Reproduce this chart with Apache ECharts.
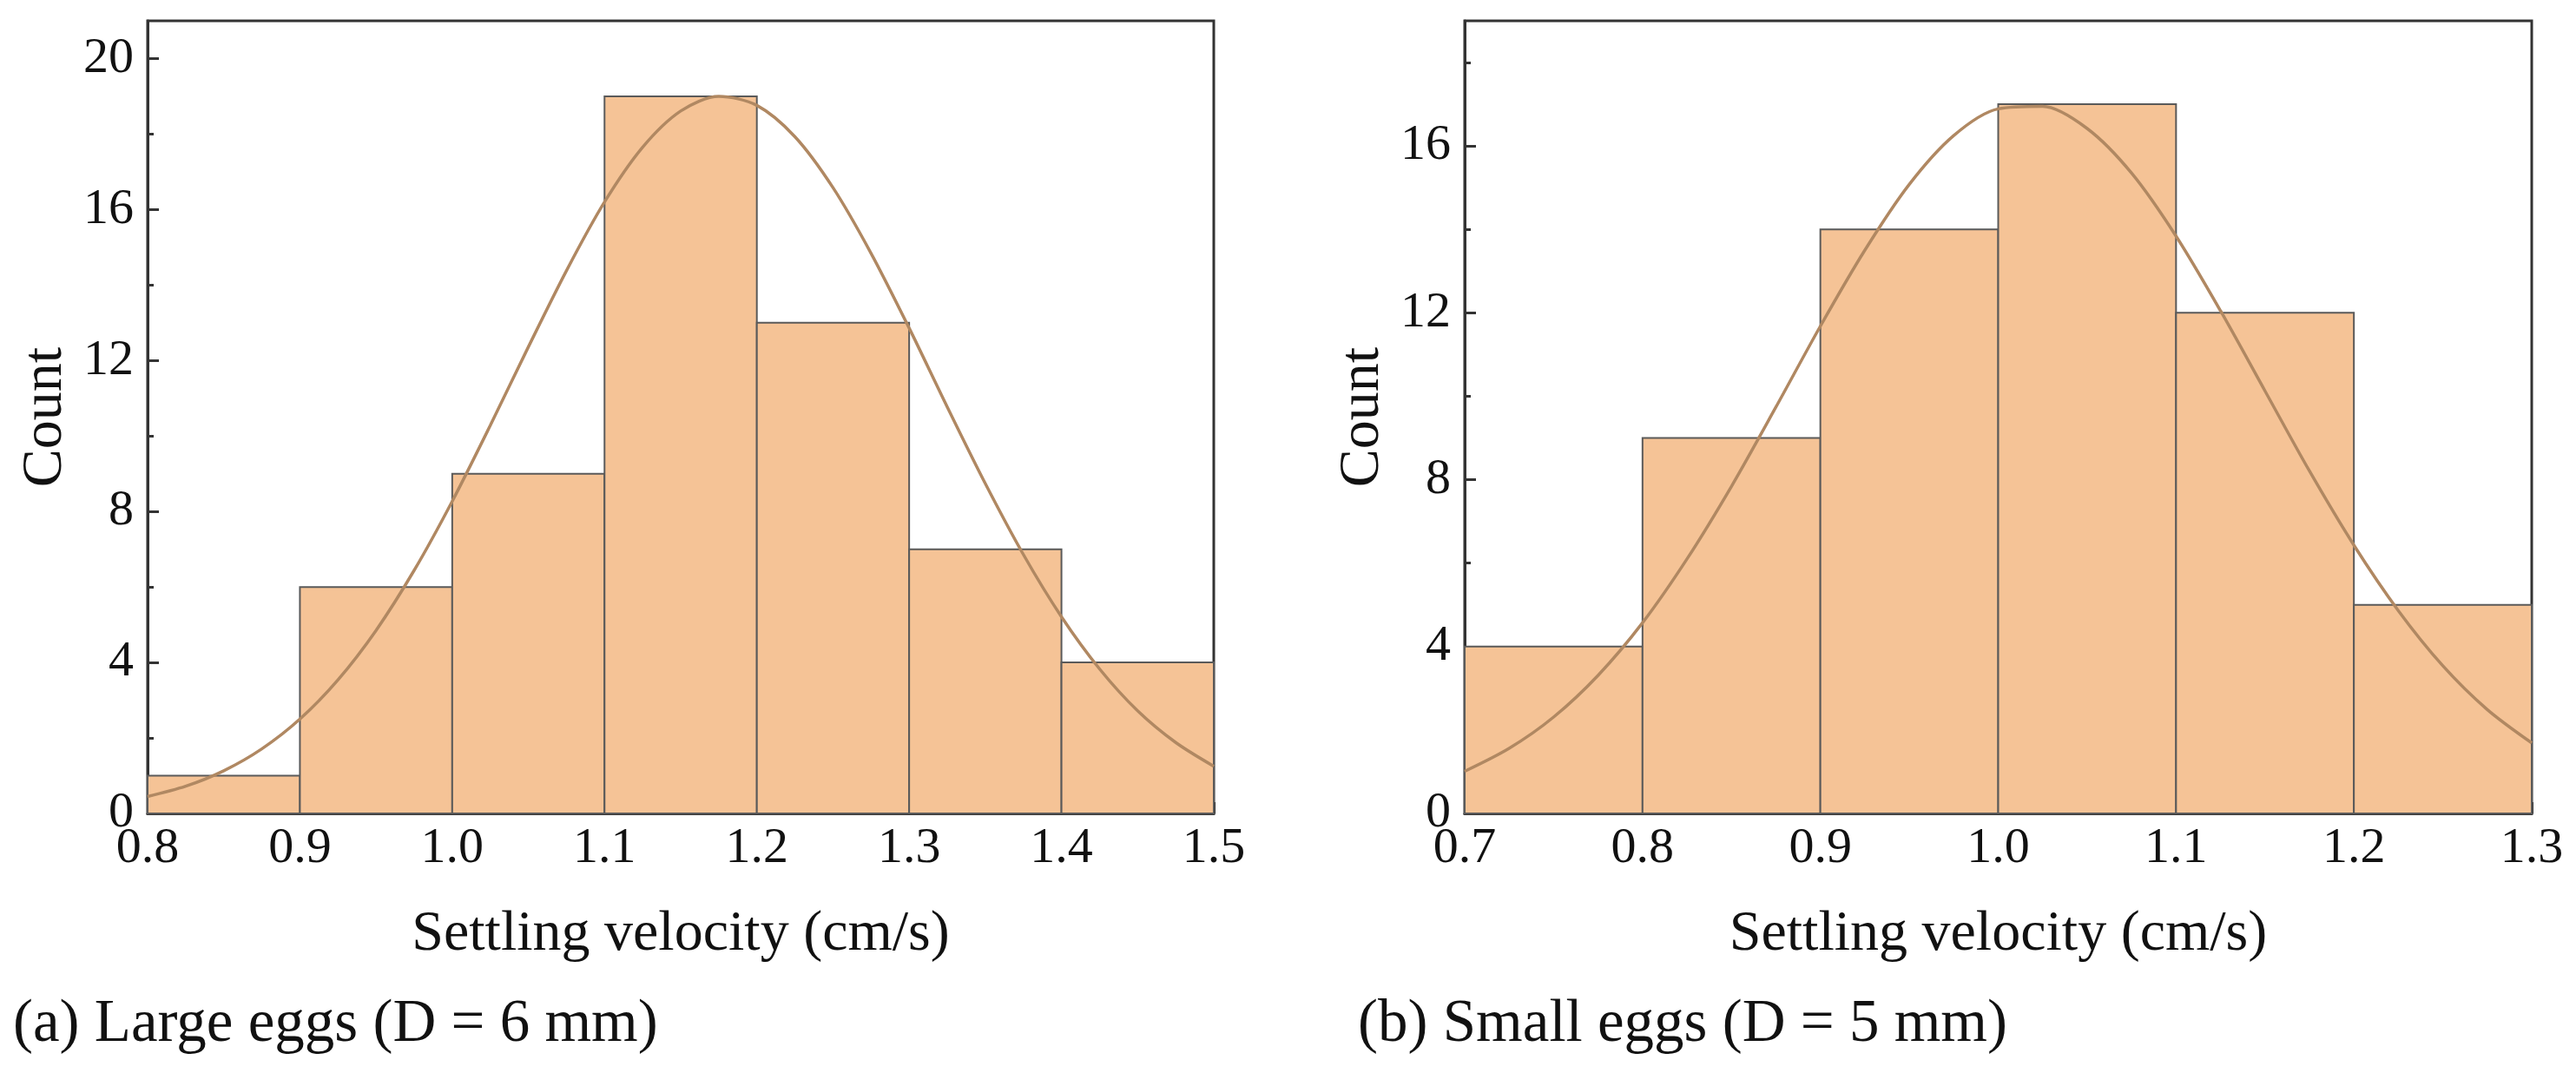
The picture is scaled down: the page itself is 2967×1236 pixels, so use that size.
<!DOCTYPE html>
<html>
<head>
<meta charset="utf-8">
<title>Settling velocity histograms</title>
<script src="https://cdn.jsdelivr.net/npm/echarts@6/dist/echarts.min.js"></script>
<style>
  html, body { margin: 0; padding: 0; background: #fff; }
  #main { width: 2967px; height: 1236px; }
</style>
</head>
<body>
<div id="main"></div>
<script>
// (a) large eggs, D = 6 mm
const largeEdges = [0.8, 0.9, 1.0, 1.1, 1.2, 1.3, 1.4, 1.5];
const largeCounts = [1, 6, 9, 19, 13, 7, 4];
const largeFitX = [0.8, 0.825, 0.85, 0.875, 0.9, 0.925, 0.95, 0.975, 1.0, 1.025, 1.05, 1.075, 1.1, 1.125, 1.15,
  1.175, 1.2, 1.225, 1.25, 1.275, 1.3, 1.325, 1.35, 1.375, 1.4, 1.425, 1.45, 1.475, 1.5];
const largeFitY = [0.45, 0.72, 1.13, 1.71, 2.5, 3.54, 4.85, 6.44, 8.27, 10.28, 12.36, 14.38, 16.2, 17.65, 18.61,
  19.0, 18.76, 17.93, 16.58, 14.84, 12.86, 10.77, 8.74, 6.86, 5.21, 3.83, 2.72, 1.88, 1.25];

// (b) small eggs, D = 5 mm
const smallEdges = [0.7, 0.8, 0.9, 1.0, 1.1, 1.2, 1.3];
const smallCounts = [4, 9, 14, 17, 12, 5];
const smallFitX = [0.7, 0.725, 0.75, 0.775, 0.8, 0.825, 0.85, 0.875, 0.9, 0.925, 0.95, 0.975, 1.0,
  1.025, 1.05, 1.075, 1.1, 1.125, 1.15, 1.175, 1.2, 1.225, 1.25, 1.275, 1.3];
const smallFitY = [1.01, 1.56, 2.31, 3.31, 4.57, 6.1, 7.84, 9.74, 11.68, 13.5, 15.08, 16.25, 16.89,
  16.95, 16.42, 15.35, 13.84, 12.05, 10.13, 8.21, 6.43, 4.86, 3.54, 2.49, 1.69];

// y ticks
const largeMajorTicks = [0, 4, 8, 12, 16, 20];
const largeMinorTicks = [2, 6, 10, 14, 18];
const smallMajorTicks = [0, 4, 8, 12, 16];
const smallMinorTicks = [2, 6, 10, 14, 18];

const captions = ['(a) Large eggs (D = 6 mm)', '(b) Small eggs (D = 5 mm)'];
const xName = 'Settling velocity (cm/s)';
const yName = 'Count';

var FONT = "'Liberation Serif', 'Times New Roman', serif";
var INK = '#333';

function bins(edges, counts) {
  return counts.map(function (c, i) { return [edges[i], edges[i + 1], c]; });
}
function pairs(xs, ys) {
  return xs.map(function (x, i) { return [x, ys[i]]; });
}

function renderBin(params, api) {
  var p0 = api.coord([api.value(0), api.value(2)]);
  var p1 = api.coord([api.value(1), 0]);
  return {
    type: 'rect',
    shape: { x: p0[0], y: p0[1], width: p1[0] - p0[0], height: p1[1] - p0[1] },
    style: { fill: '#F5C396', stroke: '#5a5a5a', lineWidth: 2 }
  };
}

function xAxisFor(grid, min, max) {
  return {
    type: 'value', gridIndex: grid, min: min, max: max, interval: 0.1,
    name: xName, nameLocation: 'middle', nameGap: 107,
    nameTextStyle: { fontFamily: FONT, fontSize: 66, color: '#111' },
    axisLine: { lineStyle: { color: INK, width: 3 } },
    axisTick: { inside: true, length: 13, lineStyle: { color: INK, width: 3 } },
    minorTick: { show: true, splitNumber: 2, length: 7, lineStyle: { color: INK, width: 3 } },
    splitLine: { show: false },
    axisLabel: {
      fontFamily: FONT, fontSize: 58, color: '#111', margin: 12,
      formatter: function (v) { return v.toFixed(1); }
    }
  };
}

function yAxesFor(grid, max, major, minor) {
  return [{
    type: 'value', gridIndex: grid, min: 0, max: max,
    name: yName, nameLocation: 'middle', nameGap: 84,
    nameTextStyle: { fontFamily: FONT, fontSize: 66, color: '#111' },
    axisLine: { show: true, lineStyle: { color: INK, width: 3 } },
    axisTick: { show: true, inside: true, length: 13, customValues: major, lineStyle: { color: INK, width: 3 } },
    splitLine: { show: false },
    axisLabel: { fontFamily: FONT, fontSize: 58, color: '#111', margin: 16, customValues: major }
  }, {
    type: 'value', gridIndex: grid, min: 0, max: max, position: 'left',
    axisLine: { show: false },
    axisTick: { show: true, inside: true, length: 7, customValues: minor, lineStyle: { color: INK, width: 3 } },
    splitLine: { show: false },
    axisLabel: { show: false }
  }];
}

var chartDom = document.getElementById('main');
var myChart = echarts.init(chartDom, null, { renderer: 'canvas' });
var option;

var gridStyle = { show: true, borderColor: INK, borderWidth: 3, backgroundColor: 'transparent' };
var fitLine = { color: '#B08862', width: 3.5 };

option = {
  backgroundColor: '#fff',
  animation: false,
  grid: [
    Object.assign({ left: 170, top: 24, width: 1228, height: 913 }, gridStyle),
    Object.assign({ left: 1687, top: 24, width: 1229, height: 913 }, gridStyle)
  ],
  xAxis: [xAxisFor(0, 0.8, 1.5), xAxisFor(1, 0.7, 1.3)],
  yAxis: yAxesFor(0, 21, largeMajorTicks, largeMinorTicks)
    .concat(yAxesFor(1, 19, smallMajorTicks, smallMinorTicks)),
  series: [
    {
      type: 'custom', xAxisIndex: 0, yAxisIndex: 0, renderItem: renderBin,
      encode: { x: [0, 1], y: 2 }, data: bins(largeEdges, largeCounts), z: 2
    },
    {
      type: 'line', xAxisIndex: 0, yAxisIndex: 0, data: pairs(largeFitX, largeFitY),
      smooth: 0.3, showSymbol: false, z: 3, lineStyle: fitLine
    },
    {
      type: 'custom', xAxisIndex: 1, yAxisIndex: 2, renderItem: renderBin,
      encode: { x: [0, 1], y: 2 }, data: bins(smallEdges, smallCounts), z: 2
    },
    {
      type: 'line', xAxisIndex: 1, yAxisIndex: 2, data: pairs(smallFitX, smallFitY),
      smooth: 0.3, showSymbol: false, z: 3, lineStyle: fitLine
    }
  ],
  graphic: [
    { type: 'text', left: 15, top: 1146, style: { text: captions[0], font: '69px ' + FONT, fill: '#111' } },
    { type: 'text', left: 1564, top: 1146, style: { text: captions[1], font: '69px ' + FONT, fill: '#111' } }
  ]
};

option && myChart.setOption(option);
</script>
</body>
</html>
